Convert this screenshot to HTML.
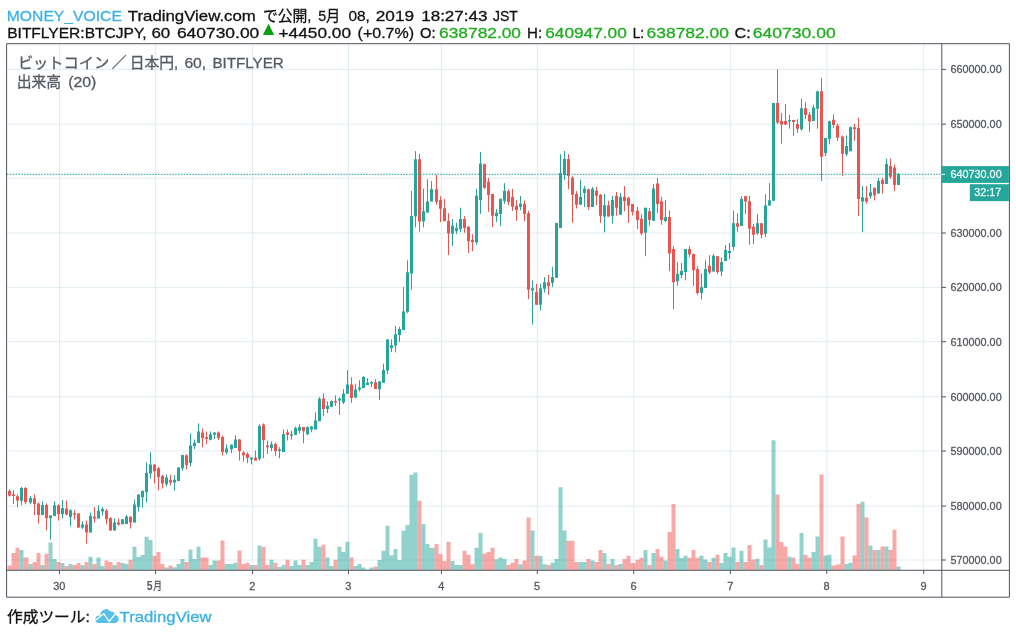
<!DOCTYPE html>
<html><head><meta charset="utf-8"><title>chart</title>
<style>
html,body{margin:0;padding:0;background:#fff;}
body{width:1016px;height:634px;overflow:hidden;font-family:"Liberation Sans",sans-serif;}
svg{display:block;position:absolute;left:0;top:0;will-change:transform;}
text{font-family:"Liberation Sans",sans-serif;}
text.j{font-family:"Liberation Sans","Noto Sans CJK JP",sans-serif;}
.ax text{stroke:#555962;stroke-width:0.3px;}
.ax text.w{stroke:#E8F6F4;}
</style></head><body>
<svg width="1016" height="634" viewBox="0 0 1016 634">
<path d="M7 69.4H941M7 124.2H941M7 178.1H941M7 233H941M7 287.4H941M7 341.7H941M7 396.8H941M7 451H941M7 506.1H941M7 560H941M59.5 44V570M155.6 44V570M252.6 44V570M348.5 44V570M441.4 44V570M537.3 44V570M633.7 44V570M730.4 44V570M826.8 44V570M923.7 44V570" stroke="#E1ECF2" stroke-width="1" fill="none"/>
<path d="M19.5 570V549.9H23.5V570ZM28.5 570V564H32.5V570ZM40.5 570V564.9H44.5V570ZM48.5 570V542.6H52.5V570ZM52.5 570V558.9H56.5V570ZM60.5 570V563.1H64.5V570ZM68.5 570V564H72.5V570ZM80.5 570V564.9H84.5V570ZM88.5 570V556.7H92.5V570ZM96.5 570V557.6H100.5V570ZM100.5 570V565.9H104.5V570ZM112.5 570V564.9H116.5V570ZM120.5 570V563.1H124.5V570ZM124.5 570V564H128.5V570ZM132.5 570V546.7H136.5V570ZM136.5 570V556.9H140.5V570ZM140.5 570V555H144.5V570ZM144.5 570V536.7H148.5V570ZM148.5 570V540.1H152.5V570ZM164.5 570V567.4H168.5V570ZM172.5 570V567.2H176.5V570ZM176.5 570V564H180.5V570ZM180.5 570V558.9H184.5V570ZM188.5 570V549.5H192.5V570ZM192.5 570V558.9H196.5V570ZM196.5 570V546.7H200.5V570ZM208.5 570V564.9H212.5V570ZM212.5 570V560.5H216.5V570ZM224.5 570V564H229.5V570ZM229.5 570V564H233.5V570ZM233.5 570V562.7H237.5V570ZM249.5 570V564.9H253.5V570ZM257.5 570V545.4H261.5V570ZM269.5 570V559.8H273.5V570ZM277.5 570V566.9H281.5V570ZM281.5 570V564.9H285.5V570ZM289.5 570V565.9H293.5V570ZM293.5 570V560.5H297.5V570ZM297.5 570V564.9H301.5V570ZM305.5 570V564.9H309.5V570ZM309.5 570V562.1H313.5V570ZM313.5 570V538.8H317.5V570ZM317.5 570V546.7H321.5V570ZM325.5 570V557.6H329.5V570ZM329.5 570V565.9H333.5V570ZM337.5 570V546.7H341.5V570ZM341.5 570V552.1H345.5V570ZM345.5 570V541.8H349.5V570ZM353.5 570V565.9H357.5V570ZM357.5 570V564H361.5V570ZM361.5 570V567.4H365.5V570ZM365.5 570V569.5H369.5V570ZM369.5 570V567.4H373.5V570ZM377.5 570V559.9H381.5V570ZM381.5 570V550.8H385.5V570ZM385.5 570V525.8H389.5V570ZM389.5 570V555.3H393.5V570ZM393.5 570V549.1H397.5V570ZM397.5 570V559.9H401.5V570ZM401.5 570V530.8H405.5V570ZM405.5 570V524.9H409.5V570ZM409.5 570V474.8H413.5V570ZM413.5 570V472.6H417.5V570ZM421.5 570V524.1H425.5V570ZM425.5 570V544H429.5V570ZM429.5 570V547.7H434.5V570ZM450.5 570V560.9H454.5V570ZM454.5 570V564.9H458.5V570ZM458.5 570V564.9H462.5V570ZM474.5 570V547.7H478.5V570ZM478.5 570V532.9H482.5V570ZM494.5 570V559.2H498.5V570ZM498.5 570V557.5H502.5V570ZM502.5 570V559.1H506.5V570ZM518.5 570V564.2H522.5V570ZM530.5 570V530.5H534.5V570ZM538.5 570V555.8H542.5V570ZM542.5 570V564.2H546.5V570ZM550.5 570V562.7H554.5V570ZM554.5 570V559.1H558.5V570ZM558.5 570V487.3H562.5V570ZM562.5 570V530.5H566.5V570ZM578.5 570V562H582.5V570ZM582.5 570V562H586.5V570ZM590.5 570V560.6H594.5V570ZM602.5 570V552.9H606.5V570ZM610.5 570V559.1H614.5V570ZM618.5 570V563.9H622.5V570ZM643.5 570V550H647.5V570ZM651.5 570V552.9H655.5V570ZM663.5 570V560.6H667.5V570ZM675.5 570V549H679.5V570ZM679.5 570V558.1H683.5V570ZM683.5 570V555.8H687.5V570ZM699.5 570V555.8H703.5V570ZM703.5 570V559.6H707.5V570ZM711.5 570V557.7H715.5V570ZM719.5 570V563H723.5V570ZM723.5 570V552.9H727.5V570ZM727.5 570V556.7H731.5V570ZM731.5 570V547.5H735.5V570ZM739.5 570V550.8H743.5V570ZM755.5 570V558.7H759.5V570ZM763.5 570V539.5H767.5V570ZM767.5 570V547.5H771.5V570ZM771.5 570V440.2H775.5V570ZM787.5 570V556.7H791.5V570ZM799.5 570V533H803.5V570ZM811.5 570V551.9H815.5V570ZM815.5 570V536.6H819.5V570ZM823.5 570V555.5H827.5V570ZM827.5 570V554.8H831.5V570ZM844.5 570V563.9H848.5V570ZM848.5 570V562.7H852.5V570ZM860.5 570V501.7H864.5V570ZM868.5 570V545.5H872.5V570ZM876.5 570V550H880.5V570ZM884.5 570V546.5H888.5V570ZM896.5 570V566.6H900.5V570Z" fill="#26A69A" fill-opacity="0.5"/>
<path d="M7.5 570V565.6H11.5V570ZM11.5 570V552.9H15.5V570ZM15.5 570V547.7H19.5V570ZM23.5 570V557.6H28.5V570ZM32.5 570V562.1H36.5V570ZM36.5 570V552.9H40.5V570ZM44.5 570V553.7H48.5V570ZM56.5 570V562.1H60.5V570ZM64.5 570V565.9H68.5V570ZM72.5 570V564.9H76.5V570ZM76.5 570V563.1H80.5V570ZM84.5 570V562.1H88.5V570ZM92.5 570V564H96.5V570ZM104.5 570V560.5H108.5V570ZM108.5 570V562.1H112.5V570ZM116.5 570V562.1H120.5V570ZM128.5 570V559.8H132.5V570ZM152.5 570V555.7H156.5V570ZM156.5 570V552.1H160.5V570ZM160.5 570V564H164.5V570ZM168.5 570V565.6H172.5V570ZM184.5 570V562.1H188.5V570ZM200.5 570V557.6H204.5V570ZM204.5 570V557.6H208.5V570ZM216.5 570V560.5H220.5V570ZM220.5 570V540.6H224.5V570ZM237.5 570V550.6H241.5V570ZM241.5 570V564H245.5V570ZM245.5 570V562.7H249.5V570ZM253.5 570V564.9H257.5V570ZM261.5 570V546.7H265.5V570ZM265.5 570V564.9H269.5V570ZM273.5 570V562.7H277.5V570ZM285.5 570V559.8H289.5V570ZM301.5 570V559.8H305.5V570ZM321.5 570V544.8H325.5V570ZM333.5 570V559.8H337.5V570ZM349.5 570V557.6H353.5V570ZM373.5 570V566.5H377.5V570ZM417.5 570V500.8H421.5V570ZM434.5 570V544H438.5V570ZM438.5 570V554.1H442.5V570ZM442.5 570V560.9H446.5V570ZM446.5 570V541.8H450.5V570ZM462.5 570V550.8H466.5V570ZM466.5 570V554.8H470.5V570ZM470.5 570V564.3H474.5V570ZM482.5 570V553.6H486.5V570ZM486.5 570V551.9H490.5V570ZM490.5 570V547.7H494.5V570ZM506.5 570V564.9H510.5V570ZM510.5 570V562.7H514.5V570ZM514.5 570V559.1H518.5V570ZM522.5 570V560.6H526.5V570ZM526.5 570V517.5H530.5V570ZM534.5 570V555.8H538.5V570ZM546.5 570V564.9H550.5V570ZM566.5 570V540.7H570.5V570ZM570.5 570V540.7H574.5V570ZM574.5 570V562H578.5V570ZM586.5 570V559.1H590.5V570ZM594.5 570V562H598.5V570ZM598.5 570V550H602.5V570ZM606.5 570V563.9H610.5V570ZM614.5 570V564.9H618.5V570ZM622.5 570V559.1H626.5V570ZM626.5 570V555.8H630.5V570ZM630.5 570V563H635.5V570ZM635.5 570V559.8H639.5V570ZM639.5 570V557.7H643.5V570ZM647.5 570V564.9H651.5V570ZM655.5 570V549H659.5V570ZM659.5 570V556.7H663.5V570ZM667.5 570V532H671.5V570ZM671.5 570V504H675.5V570ZM687.5 570V557.7H691.5V570ZM691.5 570V550H695.5V570ZM695.5 570V557.7H699.5V570ZM707.5 570V562H711.5V570ZM715.5 570V554.8H719.5V570ZM735.5 570V562H739.5V570ZM743.5 570V562H747.5V570ZM747.5 570V545H751.5V570ZM751.5 570V559.6H755.5V570ZM759.5 570V564.9H763.5V570ZM775.5 570V494.6H779.5V570ZM779.5 570V542.1H783.5V570ZM783.5 570V546.5H787.5V570ZM791.5 570V557.7H795.5V570ZM795.5 570V563.9H799.5V570ZM803.5 570V554.8H807.5V570ZM807.5 570V557.7H811.5V570ZM819.5 570V474.4H823.5V570ZM831.5 570V565.6H835.5V570ZM835.5 570V564.6H840.5V570ZM840.5 570V536.5H844.5V570ZM852.5 570V555.5H856.5V570ZM856.5 570V503.8H860.5V570ZM864.5 570V517.4H868.5V570ZM872.5 570V550H876.5V570ZM880.5 570V546.5H884.5V570ZM888.5 570V549.9H892.5V570ZM892.5 570V529.7H896.5V570Z" fill="#EF5350" fill-opacity="0.5"/>
<path d="M21.5 487V505.2M30.5 496.1V504.2M42.5 501.3V515.1M50.5 515.4V539.7M54.5 501.3V516M62.5 500V518.6M70.5 509.4V526.3M82.5 521.2V528.9M90.5 512.5V532.4M98.5 505.2V518.4M102.5 507.1V515.4M114.5 518.4V530.4M122.5 519.2V524.3M126.5 515.2V524.1M134.5 499.5V522.6M138.5 494.4V511.6M142.5 490.4V507.4M146.5 462.4V502.4M150.5 452.3V478.4M166.5 474.6V486.4M174.5 475.3V490.7M178.5 467.4V480.9M182.5 454.8V470.8M190.5 433.5V466.3M194.5 439.4V449.2M198.5 423.4V442.9M210.5 431.3V440.4M214.5 432.2V439.1M226.5 444.4V454.3M231.5 444.4V453M235.5 435.4V448M251.5 457.4V464.4M259.5 424.2V460.6M271.5 441.4V451.1M279.5 447.3V458.3M283.5 429.3V452M291.5 430.7V439.5M295.5 426.6V435.1M299.5 424.3V433.2M307.5 426.6V435.1M311.5 426.2V432.2M315.5 412.3V429.4M319.5 397.2V421.2M327.5 401.6V413M331.5 400.4V407.3M339.5 397.2V414.9M343.5 389.2V404.1M347.5 370V393.8M355.5 383.7V398.1M359.5 380.2V391.5M363.5 376.1V388.4M367.5 378.3V385M371.5 381.2V387.1M379.5 381V400M383.5 363.7V382.8M387.5 339.4V374.1M391.5 339.4V352.1M395.5 326.1V352.4M399.5 326.8V342M403.5 287.1V329.9M407.5 260.3V313.3M411.5 191V289.9M415.5 151.1V227.4M423.5 188.7V227.4M427.5 179.3V212.6M431.5 181.1V201.4M452.5 219.1V246M456.5 222.8V234.2M460.5 207.7V232.3M476.5 188.8V244.9M480.5 151.9V213.9M496.5 209V221.9M500.5 198.8V226M504.5 183.1V203.9M520.5 196V210.2M532.5 280.4V324.6M540.5 283.8V310.2M544.5 277.1V292.6M552.5 266.8V287.1M556.5 223V277.8M560.5 154.2V227.9M564.5 151V180.1M580.5 179.7V204.7M584.5 185.8V207.1M592.5 186.9V207.1M604.5 193.9V232.3M612.5 195.8V223.6M620.5 193V214.7M645.5 207.8V256.1M653.5 184.2V220.7M665.5 199.9V222M677.5 262.3V285.8M681.5 263.1V278.3M685.5 249V280.3M701.5 273.3V299.4M705.5 260.4V287.9M713.5 254.1V271.5M721.5 257.3V276.2M725.5 245V261M729.5 243V259.2M733.5 210.7V250.3M741.5 195.9V226M757.5 213.9V235M765.5 194.1V237.1M769.5 183.2V205.4M773.5 103.1V200.7M789.5 115V128.7M801.5 98.6V130.8M813.5 104.7V121.1M817.5 90.8V128.7M825.5 137.9V156M829.5 120.7V144.4M846.5 135.4V156.3M850.5 126.5V151.2M862.5 186V232.2M870.5 184V198.9M878.5 177.8V193.6M886.5 158.7V184M898.5 173V184.9" stroke="#26A69A" stroke-width="1" fill="none"/>
<path d="M20 487.9H23V500.7H20ZM29 498H32V502.5H29ZM41 505.1H44V515.1H41ZM49 515.6H52V518.3H49ZM53 505.2H56V516H53ZM61 508.1H64V514.1H61ZM69 510.3H72V517.1H69ZM81 524.4H84V527.6H81ZM89 516.1H92V532.4H89ZM97 510.7H100V518.4H97ZM101 509H104V511.6H101ZM113 522.5H116V530.4H113ZM121 519.2H124V524.3H121ZM125 516.5H128V524.1H125ZM133 504.5H136V522.6H133ZM137 494.4H140V507.1H137ZM141 491H144V497.3H141ZM145 472.7H148V491.9H145ZM149 464.5H152V473.4H149ZM165 477.5H168V484.3H165ZM173 479.7H176V482.6H173ZM177 467.4H180V480.9H177ZM181 455H184V468.3H181ZM189 445.5H192V463H189ZM193 442.7H196V446.1H193ZM197 431.6H200V442.9H197ZM209 434.3H212V439.8H209ZM213 432.6H216V434.7H213ZM225 448.6H228V452.4H225ZM230 444.8H233V449.2H230ZM234 439.4H237V448H234ZM250 457.4H253V459.6H250ZM258 425.9H261V458.7H258ZM270 444.2H273V448H270ZM278 449.5H281V451.1H278ZM282 434.1H285V452H282ZM290 434.2H293V435.7H290ZM294 428.1H297V434.7H294ZM298 426.9H301V430.7H298ZM306 427.1H309V434.2H306ZM310 426.6H313V429.4H310ZM314 420.6H317V429.4H314ZM318 398.8H321V421.2H318ZM326 405.7H329V408.9H326ZM330 401H333V406.7H330ZM338 398.8H341V400.4H338ZM342 393.4H345V402.6H342ZM346 384.6H349V393.8H346ZM354 389.6H357V397.6H354ZM358 387.5H361V389.6H358ZM362 377H365V388H362ZM366 382.7H369V385H366ZM370 382H373V383.5H370ZM378 381.6H381V389.2H378ZM382 370.1H385V382.8H382ZM386 339.4H389V370.6H386ZM390 345.2H393V348.1H390ZM394 334.2H397V345.5H394ZM398 329H401V335.1H398ZM402 311.5H405V329.9H402ZM406 272.2H409V311.7H406ZM410 216.1H413V273.4H410ZM414 159.2H417V216.4H414ZM422 211.2H425V221.6H422ZM426 201.4H429V212.6H426ZM430 189.2H433V201.4H430ZM451 225.7H454V233.7H451ZM455 227.9H458V231.3H455ZM459 219H462V229.1H459ZM475 195.8H478V242.3H475ZM479 163.6H482V200.1H479ZM495 212.8H498V216.2H495ZM499 198.8H502V213.9H499ZM503 190.7H506V201.1H503ZM519 203.8H522V207.1H519ZM531 288.2H534V290.4H531ZM539 288.2H542V304.7H539ZM543 282.2H546V288.8H543ZM551 277.1H554V282.7H551ZM555 223H558V277.8H555ZM559 173.1H562V227.9H559ZM563 158.9H566V175H563ZM579 196.7H582V204.7H579ZM583 188.8H586V193H583ZM591 188.8H594V207.1H591ZM603 205.2H606V216.6H603ZM611 200.1H614V215.7H611ZM619 196.7H622V214.7H619ZM644 207.8H647V232.8H644ZM652 188.5H655V220.7H652ZM664 217.3H667V221.1H664ZM676 274H679V281.2H676ZM680 271.1H683V275H680ZM684 249H687V272H684ZM700 287.2H703V293.1H700ZM704 268.9H707V287.9H704ZM712 255.7H715V271.5H712ZM720 262H723V271.5H720ZM724 250H727V261H724ZM728 251H731V253.1H728ZM732 223.2H735V247.1H732ZM740 199H743V226H740ZM756 223.2H759V233.2H756ZM764 205.4H767V233.8H764ZM768 200.2H771V205.4H768ZM772 103.1H775V200.7H772ZM788 119.9H791V121.5H788ZM800 108.2H803V129.3H800ZM812 107.6H815V121.1H812ZM816 91.2H819V108.8H816ZM824 137.9H827V152.9H824ZM828 121.2H831V138.9H828ZM845 146H848V154.2H845ZM849 127.2H852V151.2H849ZM861 197.3H864V201.4H861ZM869 192.2H872V196.3H869ZM877 180.9H880V193.6H877ZM885 164.1H888V184H885ZM897 174.2H900V184.9H897Z" fill="#26A69A"/>
<path d="M9.5 489.1V496.6M13.5 490.3V504.2M17.5 494.5V507.3M25.5 487V504.3M34.5 494.4V515.2M38.5 502.5V523.4M46.5 503.4V530.4M58.5 504.3V520.5M66.5 500.5V515.4M74.5 510.3V519.6M78.5 513.5V528.2M86.5 520.5V543.6M94.5 507.1V522.7M106.5 509V524.4M110.5 517.1V530.4M118.5 518.4V525.7M130.5 516.3V528.5M154.5 464.5V483.5M158.5 467V490.4M162.5 474.6V488.5M170.5 474.6V485.4M186.5 454.4V469.5M202.5 428.4V447.3M206.5 431.6V444.2M218.5 431.3V440.2M222.5 435.4V455.3M239.5 439.1V460.6M243.5 451.1V461.6M247.5 452.4V463.1M255.5 450.5V460.4M263.5 423.4V458.3M267.5 440.7V454M275.5 442.7V456.2M287.5 429.4V440.5M303.5 427.1V443.3M323.5 393.4V416.1M335.5 395.3V406M351.5 377.4V402.9M375.5 379.2V389.1M419.5 154V231.7M436.5 174.8V204.8M440.5 196.2V222.2M444.5 199.1V221.3M448.5 213.2V255M464.5 216.2V232.8M468.5 226.6V253.1M472.5 234.2V251.2M484.5 163.6V188.8M488.5 178V212M492.5 193.9V227.2M508.5 189.3V205.2M512.5 188.8V210.9M516.5 200.1V220.9M524.5 200.6V221.2M528.5 211V299.2M536.5 283.8V304.7M548.5 274.9V294.8M568.5 154.2V189.2M572.5 176.3V222.7M576.5 191.1V208.5M588.5 188.8V210M596.5 186.9V205.2M600.5 193.9V222.8M608.5 200.9V216.6M616.5 192V215.7M624.5 186V211.3M628.5 196.8V222.9M632.5 204V215.4M637.5 206.9V229M641.5 214.4V235.2M649.5 207.8V225.8M657.5 177.9V213.1M661.5 196.9V224.8M669.5 210.7V271.1M673.5 246.1V309.3M689.5 245.9V257.2M693.5 253.4V286.1M697.5 266.2V295.1M709.5 255.2V274.1M717.5 256.3V274.1M737.5 213.2V231.8M745.5 195.9V213.9M749.5 195.9V244.8M753.5 224V244M761.5 223.2V238.4M777.5 69.2V124M781.5 112.9V143.7M785.5 104.1V125.2M793.5 119.9V135.9M797.5 119.1V132.8M805.5 102.1V119.1M809.5 112.3V131.8M821.5 78.1V181M833.5 114.3V128.3M837.5 123.9V140.9M842.5 135.4V175.8M854.5 123.9V140.9M858.5 117.7V216.2M866.5 186V203.9M874.5 187.1V200.4M882.5 177.8V193.6M890.5 158.7V178.8M894.5 164.5V191.2" stroke="#EF5350" stroke-width="1" fill="none"/>
<path d="M8 491H11V495.5H8ZM12 494.5H15V496.1H12ZM16 496.2H19V500.4H16ZM24 487.9H27V502.3H24ZM33 498.3H36V504H33ZM37 503.5H40V515.1H37ZM45 505.1H48V518.3H45ZM57 505.2H60V514.1H57ZM65 508.4H68V514.5H65ZM73 513.2H76V514.8H73ZM77 513.5H80V527.6H77ZM85 524.4H88V532.4H85ZM93 516.7H96V518.6H93ZM105 510.7H108V519.3H105ZM109 518H112V530.4H109ZM117 522.5H120V524.4H117ZM129 516.7H132V522.6H129ZM153 464.5H156V471.2H153ZM157 468.3H160V477.1H157ZM161 475.9H164V483.5H161ZM169 479.7H172V482.6H169ZM185 455.3H188V465H185ZM201 432.6H204V437.9H201ZM205 437.2H208V439.1H205ZM217 432.6H220V437.9H217ZM221 436.9H224V452H221ZM238 439.4H241V451.1H238ZM242 452.4H245V455.3H242ZM246 454H249V458.1H246ZM254 457.8H257V460.4H254ZM262 424.6H265V440.2H262ZM266 445.5H269V447.3H266ZM274 443.9H277V451.1H274ZM286 432.6H289V435.1H286ZM302 427.1H305V431.3H302ZM322 398.5H325V408.9H322ZM334 401H337V402.6H334ZM350 384.6H353V398.1H350ZM374 382.2H377V389.1H374ZM418 159.2H421V221.6H418ZM435 189.2H438V201.9H435ZM439 200.1H442V208.8H439ZM443 208.3H446V221.3H443ZM447 221.1H450V233.5H447ZM463 219H466V227.9H463ZM467 226.6H470V241.2H467ZM471 239.8H474V242.3H471ZM483 164.2H486V187.8H483ZM487 181.8H490V195H487ZM491 193.9H494V215.8H491ZM507 191.2H510V202H507ZM511 196.9H514V206.7H511ZM515 205.8H518V210.1H515ZM523 203.8H526V214.1H523ZM527 213.2H530V289.7H527ZM535 291.9H538V304.7H535ZM547 282.2H550V286H547ZM567 158.9H570V175.9H567ZM571 177.8H574V194.8H571ZM575 193.9H578V204.7H575ZM587 189.2H590V207.1H587ZM595 190.7H598V195.8H595ZM599 194.8H602V215.7H599ZM607 205.2H610V216.6H607ZM615 195.8H618V207.7H615ZM623 196.8H626V201H623ZM627 197.8H630V205.7H627ZM631 204H634V212H631ZM636 210.7H639V220.1H636ZM640 218.8H643V233.4H640ZM648 211.2H651V220.1H648ZM656 183.6H659V204H656ZM660 201.2H663V220.1H660ZM668 216.9H671V253.6H668ZM672 249H675V282.2H672ZM688 249H691V254.4H688ZM692 253.9H695V270.2H692ZM696 269.1H699V293.1H696ZM708 265.8H711V272.6H708ZM716 256.3H719V272.1H716ZM736 223.2H739V226.7H736ZM744 196.2H747V201.6H744ZM748 201.2H751V228.8H748ZM752 226.7H755V234.8H752ZM760 223.2H763V234.8H760ZM776 103.1H779V122.6H776ZM780 121.1H783V124.6H780ZM784 121.1H787V124.6H784ZM792 119.9H795V122H792ZM796 124H799V128.7H796ZM804 108.2H807V115H804ZM808 114.4H811V121.5H808ZM820 91.2H823V156.8H820ZM832 119.8H835V125.1H832ZM836 125.5H839V137.8H836ZM841 136.6H844V153.8H841ZM853 127.2H856V129.2H853ZM857 128H860V198.9H857ZM865 197.7H868V201.4H865ZM873 188.1H876V195.3H873ZM881 179.9H884V184H881ZM889 166.1H892V176.8H889ZM893 167.6H896V185H893Z" fill="#EF5350"/>
<path d="M7 174.3H941" stroke="#26A69A" stroke-width="1" stroke-dasharray="1.6 1.25" fill="none"/>
<path d="M6.6 43.7H1009.4V597.2H6.6ZM6.6 570.3H1009.4M941.8 43.7V597.2" stroke="#50535E" stroke-width="1" fill="none"/>
<path d="M942 69.4H946M942 124.2H946M942 178.1H946M942 233H946M942 287.4H946M942 341.7H946M942 396.8H946M942 451H946M942 506.1H946M942 560H946M59.5 570.5V574M155.6 570.5V574M252.6 570.5V574M348.5 570.5V574M441.4 570.5V574M537.3 570.5V574M633.7 570.5V574M730.4 570.5V574M826.8 570.5V574M923.7 570.5V574" stroke="#50535E" stroke-width="1" fill="none"/>
<g class="ax">
<text x="950.4" y="73.4" font-size="11" fill="#555962" textLength="51.3" lengthAdjust="spacingAndGlyphs">660000.00</text>
<text x="950.4" y="128.2" font-size="11" fill="#555962" textLength="51.3" lengthAdjust="spacingAndGlyphs">650000.00</text>
<text x="950.4" y="237" font-size="11" fill="#555962" textLength="51.3" lengthAdjust="spacingAndGlyphs">630000.00</text>
<text x="950.4" y="291.4" font-size="11" fill="#555962" textLength="51.3" lengthAdjust="spacingAndGlyphs">620000.00</text>
<text x="950.4" y="345.7" font-size="11" fill="#555962" textLength="51.3" lengthAdjust="spacingAndGlyphs">610000.00</text>
<text x="950.4" y="400.8" font-size="11" fill="#555962" textLength="51.3" lengthAdjust="spacingAndGlyphs">600000.00</text>
<text x="950.4" y="455" font-size="11" fill="#555962" textLength="51.3" lengthAdjust="spacingAndGlyphs">590000.00</text>
<text x="950.4" y="510.1" font-size="11" fill="#555962" textLength="51.3" lengthAdjust="spacingAndGlyphs">580000.00</text>
<text x="950.4" y="564" font-size="11" fill="#555962" textLength="51.3" lengthAdjust="spacingAndGlyphs">570000.00</text>
<rect x="941.3" y="166.1" width="67.6" height="16.8" fill="#26A69A"/>
<path d="M941.3 174.3H945" stroke="#fff" stroke-width="1"/>
<text class="w" x="950.4" y="178.3" font-size="11" fill="#E8F6F4" textLength="51.3" lengthAdjust="spacingAndGlyphs">640730.00</text>
<rect x="969.8" y="184.2" width="39.1" height="16.9" fill="#26A69A"/>
<text class="w" x="974.3" y="196" font-size="11" fill="#E8F6F4" textLength="27" lengthAdjust="spacingAndGlyphs">32:17</text>
<text x="59.3" y="589.6" font-size="11" fill="#555962" text-anchor="middle">30</text>
<text x="252.4" y="589.6" font-size="11" fill="#555962" text-anchor="middle">2</text>
<text x="348.3" y="589.6" font-size="11" fill="#555962" text-anchor="middle">3</text>
<text x="441.2" y="589.6" font-size="11" fill="#555962" text-anchor="middle">4</text>
<text x="537.1" y="589.6" font-size="11" fill="#555962" text-anchor="middle">5</text>
<text x="633.5" y="589.6" font-size="11" fill="#555962" text-anchor="middle">6</text>
<text x="730.2" y="589.6" font-size="11" fill="#555962" text-anchor="middle">7</text>
<text x="826.6" y="589.6" font-size="11" fill="#555962" text-anchor="middle">8</text>
<text x="923.5" y="589.6" font-size="11" fill="#555962" text-anchor="middle">9</text>
</g>
<g font-size="15" stroke-width="0.3">
<text class="j" x="6.8" y="20.5" fill="#3BB1E6" stroke="#3BB1E6" textLength="115.1" lengthAdjust="spacingAndGlyphs">MONEY_VOICE</text>
<text class="j" x="127.8" y="20.5" fill="#111" stroke="#111" textLength="128.1" lengthAdjust="spacingAndGlyphs">TradingView.com</text>
<text class="j" x="262.9" y="20.5" fill="#111" stroke="#111" textLength="48.6" lengthAdjust="spacingAndGlyphs">で公開,</text>
<text class="j" x="318.2" y="20.5" fill="#111" stroke="#111" textLength="22.1" lengthAdjust="spacingAndGlyphs">5月</text>
<text class="j" x="348.4" y="20.5" fill="#111" stroke="#111" textLength="21.4" lengthAdjust="spacingAndGlyphs">08,</text>
<text class="j" x="375.8" y="20.5" fill="#111" stroke="#111" textLength="38.3" lengthAdjust="spacingAndGlyphs">2019</text>
<text class="j" x="421.2" y="20.5" fill="#111" stroke="#111" textLength="66.3" lengthAdjust="spacingAndGlyphs">18:27:43</text>
<text class="j" x="493" y="20.5" fill="#111" stroke="#111" textLength="24.8" lengthAdjust="spacingAndGlyphs">JST</text>
<text class="j" x="7.2" y="37.7" fill="#111" stroke="#111" textLength="139.4" lengthAdjust="spacingAndGlyphs">BITFLYER:BTCJPY,</text>
<text class="j" x="151.4" y="37.7" fill="#111" stroke="#111" textLength="18.8" lengthAdjust="spacingAndGlyphs">60</text>
<text class="j" x="176.9" y="37.7" fill="#111" stroke="#111" textLength="82.4" lengthAdjust="spacingAndGlyphs">640730.00</text>
<text class="j" x="278.5" y="37.7" fill="#111" stroke="#111" textLength="72.5" lengthAdjust="spacingAndGlyphs">+4450.00</text>
<text class="j" x="357.6" y="37.7" fill="#111" stroke="#111" textLength="56.5" lengthAdjust="spacingAndGlyphs">(+0.7%)</text>
<text class="j" x="419.9" y="37.7" fill="#111" stroke="#111" textLength="15.6" lengthAdjust="spacingAndGlyphs">O:</text>
<text class="j" x="439.1" y="37.7" fill="#1EAD1E" stroke="#1EAD1E" textLength="81.9" lengthAdjust="spacingAndGlyphs">638782.00</text>
<text class="j" x="527" y="37.7" fill="#111" stroke="#111" textLength="15.1" lengthAdjust="spacingAndGlyphs">H:</text>
<text class="j" x="545.2" y="37.7" fill="#1EAD1E" stroke="#1EAD1E" textLength="81.6" lengthAdjust="spacingAndGlyphs">640947.00</text>
<text class="j" x="632.8" y="37.7" fill="#111" stroke="#111" textLength="11.3" lengthAdjust="spacingAndGlyphs">L:</text>
<text class="j" x="646.6" y="37.7" fill="#1EAD1E" stroke="#1EAD1E" textLength="82.4" lengthAdjust="spacingAndGlyphs">638782.00</text>
<text class="j" x="734.5" y="37.7" fill="#111" stroke="#111" textLength="16.2" lengthAdjust="spacingAndGlyphs">C:</text>
<text class="j" x="752.8" y="37.7" fill="#1EAD1E" stroke="#1EAD1E" textLength="82.9" lengthAdjust="spacingAndGlyphs">640730.00</text>
<text class="j" x="17.9" y="67.8" fill="#555962" stroke="#555962" textLength="91.3" lengthAdjust="spacingAndGlyphs">ビットコイン</text>
<text class="j" x="111.7" y="67.8" fill="#555962" stroke="#555962" textLength="14.7" lengthAdjust="spacingAndGlyphs">／</text>
<text class="j" x="129.7" y="67.8" fill="#555962" stroke="#555962" textLength="48.5" lengthAdjust="spacingAndGlyphs">日本円,</text>
<text class="j" x="184.4" y="67.8" fill="#555962" stroke="#555962" textLength="21.8" lengthAdjust="spacingAndGlyphs">60,</text>
<text class="j" x="212.4" y="67.8" fill="#555962" stroke="#555962" textLength="71.3" lengthAdjust="spacingAndGlyphs">BITFLYER</text>
<text class="j" x="16.7" y="86.9" fill="#555962" stroke="#555962" textLength="44.5" lengthAdjust="spacingAndGlyphs">出来高</text>
<text class="j" x="68.2" y="86.9" fill="#555962" stroke="#555962" textLength="28.2" lengthAdjust="spacingAndGlyphs">(20)</text>
<text class="j" x="7" y="622.1" fill="#111" stroke="#111" textLength="82.8" lengthAdjust="spacingAndGlyphs">作成ツール:</text>
<text class="j" x="119.6" y="622.1" fill="#3BB1E6" stroke="#3BB1E6" textLength="92" lengthAdjust="spacingAndGlyphs">TradingView</text>
</g>
<path d="M262.9 35L268.55 23.8L274.2 35Z" fill="#0E9D0E"/>
<text class="j" x="153.3" y="589.6" font-size="11" textLength="8.7" lengthAdjust="spacingAndGlyphs" fill="#555962" stroke="#555962" stroke-width="0.3">月</text>
<text x="146.7" y="589.8" font-size="12" textLength="5.8" lengthAdjust="spacingAndGlyphs" font-weight="bold" fill="#555962">5</text>
<g><path d="M97.6 622.9A3.75 3.75 0 0 1 100.6 615.9A5.55 5.55 0 0 1 110.6 611.6A3.9 3.9 0 0 1 115.3 614.9A4.1 4.1 0 0 1 115.6 622.9Z" fill="#56C0E8"/><path d="M95.2 620.6L103.8 613.7L109.2 621.7L115.6 613.4" stroke="#fff" stroke-width="1.25" fill="none" stroke-linejoin="round"/></g>
</svg>
</body></html>
